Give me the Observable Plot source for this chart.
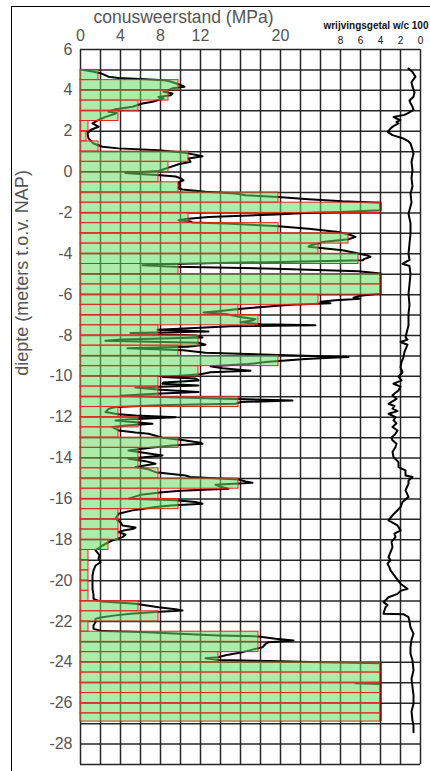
<!DOCTYPE html>
<html>
<head>
<meta charset="utf-8">
<script src="https://cdn.jsdelivr.net/npm/d3@7"></script>
<script src="https://cdn.jsdelivr.net/npm/@observablehq/plot@0.6"></script>
<style>
  html, body { margin: 0; padding: 0; background: #fff; }
  #chart { position: relative; width: 430px; height: 771px; overflow: hidden; }
  #chart svg { position: absolute; left: 0; top: 0; }
  #border { position: absolute; left: 11px; top: 6px; width: 440px; height: 780px;
            border-left: 1.5px solid #000; border-top: 1.5px solid #000; }
</style>
</head>
<body>
<div id="chart"><div id="border"></div></div>
<script>
// ---------- text ----------
const qcTitle = "conusweerstand (MPa)";
const frTitle = "wrijvingsgetal w/c 100";
const yLabel = "diepte (meters t.o.v. NAP)";

// ---------- ticks / grid ----------
const qcTicks = [0, 4, 8, 12, 20];
const depthTicks = [6, 4, 2, 0, -2, -4, -6, -8, -10, -12, -14, -16, -18, -20, -22, -24, -26, -28];
const frictionTicks = [8, 6, 4, 2, 0];
const frictionOffset = 34; // friction axis runs right-to-left from the right edge (34 MPa)
const gridQc = [0, 2, 4, 6, 8, 10, 12, 14, 16, 18, 20, 22, 24, 26, 28, 30, 32, 34];
const gridDepth = [6, 5, 4, 3, 2, 1, 0, -1, -2, -3, -4, -5, -6, -7, -8, -9, -10, -11, -12, -13, -14, -15,
  -16, -17, -18, -19, -20, -21, -22, -23, -24, -25, -26, -27, -28, -29];

// ---------- interpreted layers (0.5 m bars) ----------
const barTop = [5.0, 4.5, 4.0, 3.5, 3.0, 2.5, 2.0, 1.5, 1.0, 0.5, 0.0, -0.5, -1.0, -1.5, -2.0, -2.5,
  -3.0, -3.5, -4.0, -4.5, -5.0, -5.5, -6.0, -6.5, -7.0, -7.5, -8.0, -8.5, -9.0, -9.5, -10.0, -10.5,
  -11.0, -11.5, -12.0, -12.5, -13.0, -13.5, -14.0, -14.5, -15.0, -15.5, -16.0, -16.5, -17.0, -17.5,
  -18.0, -18.5, -19.0, -19.5, -20.0, -20.5, -21.0, -21.5, -22.0, -22.5, -23.0, -23.5, -24.0, -24.5,
  -25.0, -25.5, -26.0, -26.5];
const barEnd = -26.9;
const barQc = [1.8, 9.8, 8.8, 5.8, 3.8, 0.8, 0.6, 1.8, 10.8, 8.8, 7.8, 9.8, 19.8, 30, 10.8, 19.8,
  26.8, 23.8, 27.8, 9.8, 30, 30, 23.8, 15.8, 17.8, 7.8, 11.8, 9.8, 19.8, 11.8, 7.8, 7.8,
  15.8, 3.8, 5.8, 3.8, 9.8, 5.8, 5.8, 7.8, 15.8, 7.8, 9.8, 3.8, 3.8, 3.8,
  2.8, 0.8, 0.8, 0.8, 0.8, 0.8, 5.8, 7.8, 0.8, 17.8, 17.8, 13.8, 30, 30,
  30, 30, 30, 30];

// ---------- cone resistance trace [depth m, qc MPa] ----------
const qcTrace = [[5.0,0.3],[4.92,1.2],[4.84,2.0],[4.67,2.8],[4.6,3.8],[4.54,6.5],[4.5,8.3],[4.43,9.0],[4.3,9.8],[4.18,10.4],[4.1,9.2],[4.0,8.7],[3.93,8.3],[3.85,9.2],[3.76,9.0],[3.67,7.8],[3.6,8.3],[3.44,7.2],[3.36,6.2],[3.2,5.2],[3.08,3.5],[3.03,3.2],[2.95,2.8],[2.9,3.6],[2.84,3.4],[2.7,2.5],[2.55,1.8],[2.38,1.2],[2.22,1.8],[2.06,1.0],[1.9,0.7],[1.65,0.8],[1.4,1.3],[1.24,2.2],[1.16,3.8],[1.07,7.8],[0.94,10.5],[0.77,12.2],[0.66,10.8],[0.5,11.0],[0.38,9.8],[0.22,8.8],[0.05,7.8],[-0.04,4.5],[-0.08,5.5],[-0.15,8.0],[-0.22,9.5],[-0.3,10.0],[-0.4,10.3],[-0.5,9.8],[-0.65,9.9],[-0.8,9.8],[-0.85,10.2],[-0.96,12.5],[-1.05,15.5],[-1.13,16.5],[-1.22,19.8],[-1.33,22.8],[-1.43,26.2],[-1.5,30.0],[-1.87,30.0],[-1.95,26.0],[-1.98,23.5],[-2.08,19.5],[-2.2,12.8],[-2.3,10.5],[-2.36,9.8],[-2.42,11.0],[-2.47,11.2],[-2.52,14.5],[-2.64,19.5],[-2.77,22.8],[-2.93,25.8],[-3.08,27.0],[-3.17,27.5],[-3.29,26.8],[-3.42,24.2],[-3.5,23.8],[-3.58,23.0],[-3.65,22.8],[-3.71,23.8],[-3.83,26.2],[-3.99,27.8],[-4.1,28.8],[-4.15,29.0],[-4.25,28.4],[-4.32,28.2],[-4.4,20.0],[-4.43,16.2],[-4.5,9.0],[-4.56,6.2],[-4.64,9.5],[-4.73,19.5],[-4.86,27.8],[-4.97,30.0],[-5.95,30.0],[-6.05,28.0],[-6.15,27.3],[-6.2,28.0],[-6.28,25.5],[-6.35,24.0],[-6.42,25.0],[-6.5,21.0],[-6.6,18.2],[-6.7,15.8],[-6.8,14.0],[-6.87,12.3],[-6.95,14.5],[-7.09,16.0],[-7.2,17.5],[-7.27,17.2],[-7.35,16.0],[-7.45,18.0],[-7.5,23.5],[-7.55,15.0],[-7.62,12.0],[-7.72,7.7],[-7.8,12.8],[-7.88,5.0],[-8.0,11.5],[-8.1,12.2],[-8.2,4.0],[-8.26,2.5],[-8.35,11.8],[-8.45,12.5],[-8.55,10.7],[-8.63,4.7],[-8.72,10.3],[-8.85,12.5],[-8.95,19.8],[-9.05,26.8],[-9.1,24.5],[-9.15,22.5],[-9.3,18.5],[-9.4,16.8],[-9.5,13.0],[-9.6,14.2],[-9.72,17.0],[-9.8,13.0],[-9.9,12.0],[-10.03,8.2],[-10.1,11.5],[-10.2,11.8],[-10.3,8.3],[-10.36,8.2],[-10.45,11.8],[-10.55,5.5],[-10.65,8.0],[-10.77,11.8],[-10.85,7.5],[-10.95,4.0],[-11.01,8.0],[-11.1,14.5],[-11.18,21.2],[-11.26,16.0],[-11.34,15.5],[-11.42,7.8],[-11.5,3.5],[-11.59,2.8],[-11.75,2.5],[-11.85,3.8],[-11.92,5.5],[-12.0,9.5],[-12.1,5.0],[-12.16,3.5],[-12.25,5.5],[-12.32,7.2],[-12.4,4.5],[-12.48,3.2],[-12.65,3.8],[-12.75,5.5],[-12.81,6.8],[-13.0,8.2],[-13.1,10.0],[-13.25,12.0],[-13.3,12.2],[-13.38,9.2],[-13.5,7.0],[-13.63,4.8],[-13.75,6.5],[-13.87,8.2],[-14.03,4.8],[-14.15,6.5],[-14.28,7.5],[-14.44,5.5],[-14.55,6.8],[-14.69,7.5],[-14.85,10.5],[-14.93,11.0],[-15.05,15.8],[-15.15,16.5],[-15.21,17.2],[-15.31,13.5],[-15.4,14.0],[-15.5,14.8],[-15.6,10.0],[-15.67,8.2],[-15.8,6.0],[-15.99,4.8],[-16.07,9.5],[-16.15,11.5],[-16.24,12.2],[-16.32,9.0],[-16.4,7.5],[-16.5,6.0],[-16.56,5.2],[-16.73,3.8],[-16.97,3.5],[-17.15,4.0],[-17.3,4.2],[-17.4,5.5],[-17.46,5.3],[-17.55,4.3],[-17.62,3.8],[-17.75,4.5],[-17.87,4.2],[-18.03,3.2],[-18.15,2.7],[-18.28,2.2],[-18.52,1.5],[-18.75,1.9],[-18.93,1.8],[-19.1,2.0],[-19.26,1.5],[-19.5,1.3],[-19.75,1.2],[-20.1,1.2],[-20.4,1.2],[-20.7,1.3],[-20.89,1.3],[-20.97,1.7],[-21.02,2.2],[-21.13,5.5],[-21.3,7.8],[-21.4,9.5],[-21.46,10.2],[-21.54,7.5],[-21.62,5.0],[-21.7,3.5],[-21.8,2.0],[-21.87,1.5],[-22.03,1.5],[-22.2,1.3],[-22.36,1.3],[-22.47,2.2],[-22.52,6.0],[-22.57,8.8],[-22.68,13.8],[-22.73,17.8],[-22.85,19.5],[-22.93,21.3],[-23.01,18.8],[-23.1,18.5],[-23.26,18.2],[-23.4,17.0],[-23.5,16.2],[-23.65,14.5],[-23.75,13.8],[-23.8,12.5],[-23.88,13.8],[-23.95,20.0],[-24.0,24.0],[-24.04,30.0],[-24.98,30.0],[-25.02,27.5],[-25.06,30.0],[-26.85,30.0]];

// ---------- friction ratio trace [depth m, ratio %] ----------
const frictionTrace = [[5.07,1.2],[4.9,0.8],[4.67,0.5],[4.4,0.9],[4.18,0.8],[3.9,0.6],[3.69,0.7],[3.5,1.1],[3.37,1.0],[3.2,0.8],[3.04,0.7],[2.9,1.2],[2.8,1.6],[2.7,2.7],[2.62,2.4],[2.54,2.0],[2.45,2.4],[2.38,2.2],[2.25,2.7],[2.13,3.0],[1.97,3.3],[1.81,2.8],[1.64,1.7],[1.5,1.2],[1.4,1.0],[1.1,0.8],[0.9,0.7],[0.5,0.9],[0.1,0.8],[-0.3,0.9],[-0.7,0.8],[-1.06,1.0],[-1.5,0.9],[-2.04,1.2],[-2.5,1.0],[-3.02,1.0],[-3.5,1.1],[-4.0,1.2],[-4.3,1.1],[-4.49,1.8],[-4.6,1.1],[-4.98,1.0],[-5.5,1.1],[-5.96,1.2],[-6.5,1.1],[-6.93,1.2],[-7.5,1.2],[-8.08,1.5],[-8.2,1.3],[-8.32,2.0],[-8.45,1.3],[-8.57,1.4],[-8.8,1.6],[-9.06,1.7],[-9.3,1.9],[-9.55,2.0],[-9.8,1.8],[-10.03,2.2],[-10.2,1.9],[-10.36,2.7],[-10.5,2.0],[-10.69,2.2],[-10.8,2.5],[-10.93,2.8],[-11.1,2.4],[-11.34,3.2],[-11.45,2.6],[-11.58,2.8],[-11.7,2.3],[-11.83,3.2],[-12.0,2.5],[-12.15,2.7],[-12.3,2.4],[-12.48,2.8],[-12.65,2.3],[-12.81,2.5],[-13.0,2.9],[-13.13,2.8],[-13.3,2.4],[-13.46,2.5],[-13.7,2.8],[-13.95,2.7],[-14.2,2.2],[-14.44,2.2],[-14.6,1.5],[-14.85,1.5],[-14.93,0.8],[-15.1,1.2],[-15.25,1.2],[-15.58,1.5],[-15.9,1.2],[-16.15,1.8],[-16.4,2.0],[-16.6,2.4],[-16.8,2.8],[-17.05,3.2],[-17.3,2.3],[-17.54,2.0],[-17.7,2.6],[-17.87,2.5],[-18.1,2.9],[-18.36,2.8],[-18.6,3.0],[-18.85,3.2],[-19.0,3.0],[-19.17,3.3],[-19.35,3.1],[-19.5,3.0],[-19.83,2.5],[-20.15,2.0],[-20.4,1.3],[-20.5,2.0],[-20.65,2.3],[-20.81,3.2],[-21.05,3.7],[-21.2,3.3],[-21.3,3.5],[-21.45,3.6],[-21.62,3.7],[-21.64,1.7],[-21.79,1.2],[-22.0,1.1],[-22.28,1.0],[-22.6,0.7],[-22.9,0.9],[-23.26,1.0],[-23.58,1.0],[-23.91,0.8],[-24.4,0.7],[-24.8,0.9],[-25.21,0.8],[-25.6,0.7],[-26.03,0.7],[-26.4,0.9],[-26.85,0.8],[-27.1,0.7],[-27.42,0.7]];

// ---------- build ----------
const bars = barTop.map((t, i) => ({
  top: t,
  bottom: i < barTop.length - 1 ? barTop[i + 1] : barEnd,
  qc: barQc[i]
}));

const chart = Plot.plot({
  width: 430,
  height: 771,
  marginLeft: 80,
  marginRight: 10,
  marginTop: 49,
  marginBottom: 7,
  style: {
    fontFamily: "'Liberation Sans', Arial, Helvetica, sans-serif",
    fontSize: "16px",
    color: "#555",
    background: "transparent",
    overflow: "visible"
  },
  x: {domain: [0, 34], axis: "top", ticks: qcTicks, tickSize: 0, tickPadding: 9,
      tickFormat: d => String(d), label: null},
  y: {domain: [-29, 6], ticks: depthTicks, tickSize: 0, tickPadding: 8,
      tickFormat: d => String(d), label: null},
  marks: [
    Plot.ruleY(gridDepth, {stroke: "#262626", strokeWidth: 1.5}),
    Plot.ruleX(gridQc, {stroke: "#262626", strokeWidth: 1.5}),
    Plot.line(qcTrace, {x: d => d[1], y: d => d[0], stroke: "#000", strokeWidth: 2}),
    Plot.rect(bars, {x1: d => 0, x2: "qc", y1: "top", y2: "bottom",
      fill: "#66dd66", fillOpacity: 0.55, stroke: "#ee2020", strokeWidth: 1}),
    Plot.line(frictionTrace, {x: d => frictionOffset - d[1], y: d => d[0], stroke: "#000", strokeWidth: 2}),
    Plot.text([qcTitle], {frameAnchor: "top-left", dx: 103, dy: -32, textAnchor: "middle",
      lineAnchor: "middle", fontSize: 17.5, fill: "#555"}),
    Plot.text([frTitle], {frameAnchor: "top-right", dx: 8, dy: -24, textAnchor: "end",
      lineAnchor: "middle", fontSize: 10, fontWeight: "bold", fill: "#111"}),
    Plot.text(frictionTicks, {x: d => frictionOffset - d, frameAnchor: "top", dy: -9,
      lineAnchor: "middle", text: d => String(d), fontSize: 10, fill: "#111"}),
    Plot.text([yLabel], {frameAnchor: "left", dx: -58, dy: -134, rotate: -90, textAnchor: "middle",
      fontSize: 18, fill: "#555"})
  ]
});

document.getElementById("chart").appendChild(chart);
</script>
</body>
</html>
